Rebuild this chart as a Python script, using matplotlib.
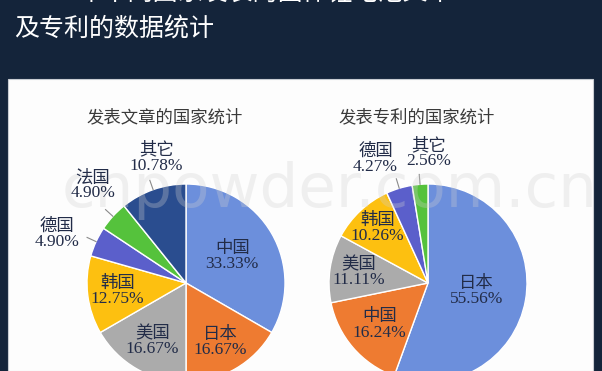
import numpy as np
import matplotlib.pyplot as plt
from matplotlib.patches import Rectangle

# data
paper_countries = ['中国', '日本', '美国', '韩国', '德国', '法国', '其它']
paper_share = [33.33, 16.67, 16.67, 12.75, 4.90, 4.90, 10.78]
patent_countries = ['日本', '中国', '美国', '韩国', '德国', '其它']
patent_share = [55.56, 16.24, 11.11, 10.26, 4.27, 2.56]

title_line1 = '2017年不同国家发表的固体锂电池文章'
title_line2 = '及专利的数据统计'
paper_title = '发表文章的国家统计'
patent_title = '发表专利的国家统计'

W, H = 602, 371
colors = ['#6c8fdc', '#ee7b31', '#ababab', '#fdc010', '#5b5fcb', '#55c23c', '#2a4d8f']
label_font = ['Liberation Serif', 'Noto Sans CJK SC']
txt_col = '#222c48'

fig = plt.figure(figsize=(W / 100, H / 100), dpi=100)
fig.patch.set_facecolor('#14243a')
ax = fig.add_axes([0, 0, 1, 1])
ax.set_facecolor('none')

# white panel
ax.add_patch(Rectangle((8, 0), 585, H - 79, facecolor='#fdfdfd', edgecolor='#c8ccd2', lw=0.8, zorder=0))

def py(y):
    return H - y

def draw_pie(vals, names, cx, cy, r, fracs, nudges):
    wedges, _ = ax.pie(vals, colors=colors[:len(vals)], startangle=90, counterclock=False,
                       center=(cx, py(cy)), radius=r,
                       wedgeprops=dict(edgecolor='white', linewidth=1.0))
    for w, name, v, f, d in zip(wedges, names, vals, fracs, nudges):
        mid = np.deg2rad((w.theta1 + w.theta2) / 2)
        ang = mid + np.deg2rad(d)
        x = cx + f * r * np.cos(ang)
        y = py(cy) + f * r * np.sin(ang)
        ax.text(x, y, f'{name}\n{v:.2f}%', ha='center', va='center', fontsize=12.5,
                family=label_font, color=txt_col, linespacing=0.92, zorder=6)
        if f > 1:
            ax.plot([cx + 1.0 * r * np.cos(mid), cx + 1.1 * r * np.cos(mid)],
                    [py(cy) + 1.0 * r * np.sin(mid), py(cy) + 1.1 * r * np.sin(mid)],
                    color='#8a8a8a', lw=0.8, zorder=4)

draw_pie(paper_share, paper_countries, 186, 283, 99,
         [0.54, 0.69, 0.68, 0.7, 1.39, 1.36, 1.3], [0, 0, 0, 0, 4, -4, -6])
draw_pie(patent_share, patent_countries, 428, 283, 99,
         [0.5, 0.65, 0.71, 0.75, 1.36, 1.31], [0, 0, 0, 0, 6, -5])

ax.text(165, py(117), paper_title, ha='center', va='center', fontsize=12.5,
        family='Noto Sans CJK SC', color='#3a3a3a')
ax.text(417, py(117), patent_title, ha='center', va='center', fontsize=12.5,
        family='Noto Sans CJK SC', color='#3a3a3a')

# watermark
ax.text(62, py(207), 'cnpowder.com.cn', ha='left', va='baseline', fontsize=44,
        family='DejaVu Sans', color='#d0d0d0', alpha=0.3, zorder=5)

# headline on dark background (top line is cut off in the screenshot)
ax.text(14, py(-7), title_line1, ha='left', va='center', fontsize=18,
        family=['DejaVu Sans', 'Noto Sans CJK SC'], color='white')
ax.text(14, py(29), title_line2, ha='left', va='center', fontsize=18,
        family='Noto Sans CJK SC', color='white')

ax.set_xlim(0, W)
ax.set_ylim(0, H)
ax.set_aspect('auto')
ax.axis('off')

fig.savefig('out.png', dpi=100, facecolor=fig.get_facecolor())
